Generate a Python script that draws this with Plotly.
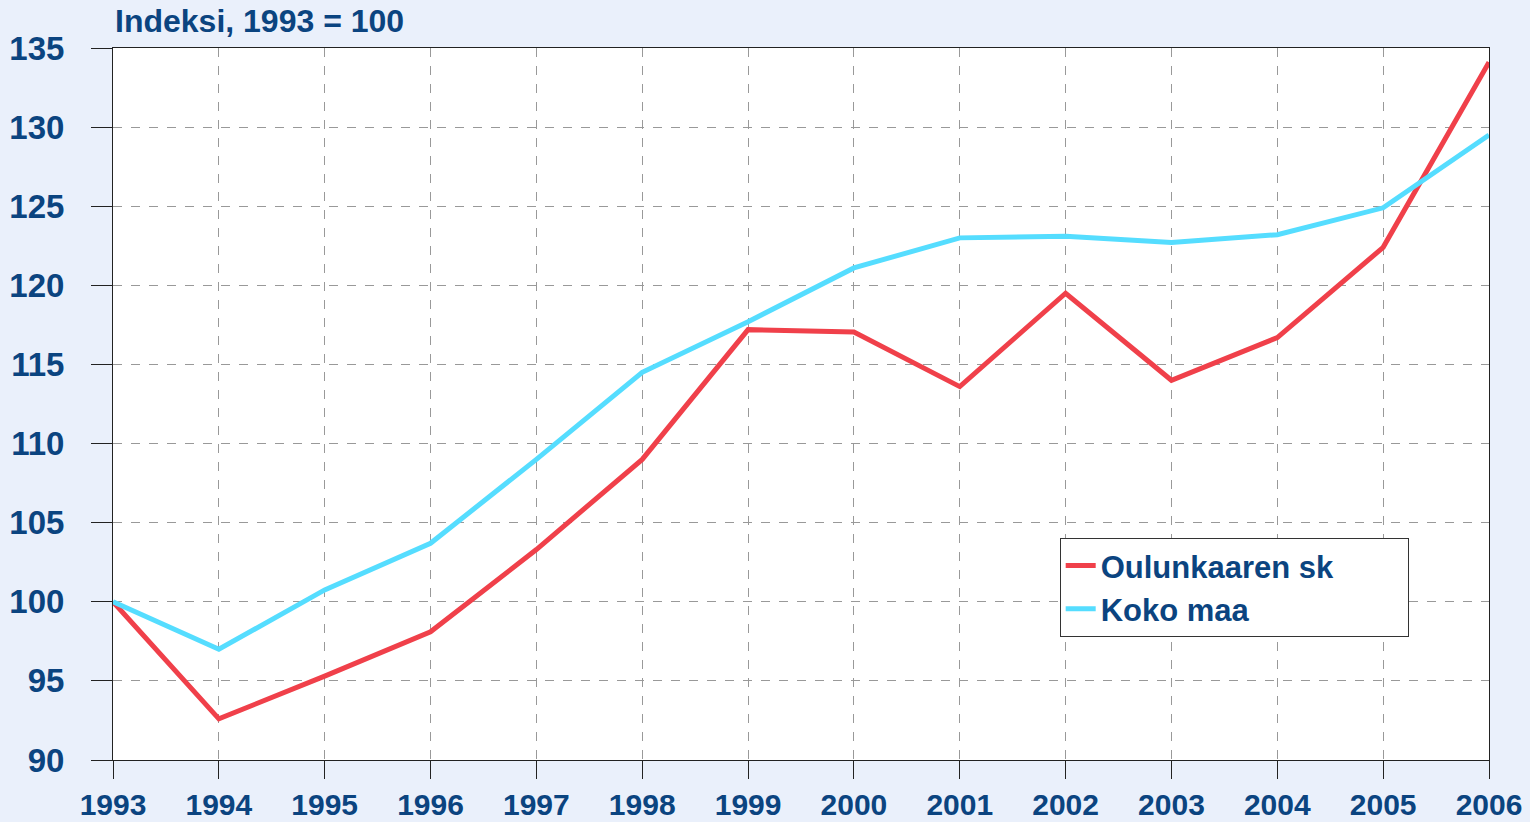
import plotly.graph_objects as go

years = [1993, 1994, 1995, 1996, 1997, 1998, 1999, 2000, 2001, 2002, 2003, 2004, 2005, 2006]
oulunkaari = [100, 92.6, 95.3, 98.1, 103.3, 109.0, 117.2, 117.05, 113.6, 119.5, 114.0, 116.7, 122.4, 134.1]
koko_maa = [100, 97.0, 100.75, 103.7, 109.0, 114.5, 117.7, 121.1, 123.0, 123.1, 122.7, 123.2, 124.9, 129.5]
y_ticks = [90, 95, 100, 105, 110, 115, 120, 125, 130, 135]
series_names = ["Oulunkaaren sk", "Koko maa"]

navy = "#0B4480"
font_family = "Liberation Sans, Arial, sans-serif"
pad = "\u00a0" * 8

fig = go.Figure()
fig.add_trace(go.Scatter(x=years, y=oulunkaari, mode="lines", name=series_names[0] + pad,
                         legendgroup="a",
                         line=dict(color="#F0404A", width=5)))
fig.add_trace(go.Scatter(x=years, y=koko_maa, mode="lines", name=series_names[1],
                         legendgroup="b",
                         line=dict(color="#55DDFF", width=5)))

fig.update_layout(
    width=1530, height=822,
    margin=dict(l=113, r=41, t=48, b=62, autoexpand=False),
    paper_bgcolor="#EAF0FB",
    plot_bgcolor="white",
    font=dict(family=font_family, color=navy, size=28),
    showlegend=True,
    legend=dict(
        x=0.688, y=0.312, xanchor="left", yanchor="top",
        bgcolor="white", bordercolor="#333333", borderwidth=1,
        font=dict(size=31, color=navy, family=font_family, weight="bold"),
        itemwidth=30, tracegroupgap=0,
    ),
    annotations=[dict(
        text="<b>Indeksi, 1993 = 100</b>", xref="paper", yref="paper",
        x=0, y=1, xanchor="left", yanchor="bottom", yshift=7, showarrow=False,
        font=dict(size=32, color=navy, family=font_family),
    )],
)

fig.update_xaxes(
    range=[1993, 2006], tickmode="array", tickvals=years,
    ticktext=[str(y) for y in years],
    showgrid=True, gridcolor="#999999", griddash="dash", gridwidth=1,
    showline=True, linecolor="#222222", linewidth=1, mirror=True,
    ticks="outside", ticklen=18, tickcolor="#222222", tickwidth=1,
    ticklabelstandoff=0, automargin=False,
    tickfont=dict(size=30, color=navy, family=font_family, weight="bold"),
    zeroline=False, fixedrange=True,
)
fig.update_yaxes(
    range=[90, 135], tickmode="array", tickvals=y_ticks,
    showgrid=True, gridcolor="#999999", griddash="dash", gridwidth=1,
    showline=True, linecolor="#222222", linewidth=1, mirror=True,
    ticks="outside", ticklen=21, tickcolor="#222222", tickwidth=1,
    ticklabelstandoff=20, automargin=False,
    tickfont=dict(size=33, color=navy, family=font_family, weight="bold"),
    zeroline=False, fixedrange=True,
)

fig.write_html("out.html", config={"displayModeBar": False},
               post_script="document.body.style.margin='0';document.body.style.overflow='hidden';")
